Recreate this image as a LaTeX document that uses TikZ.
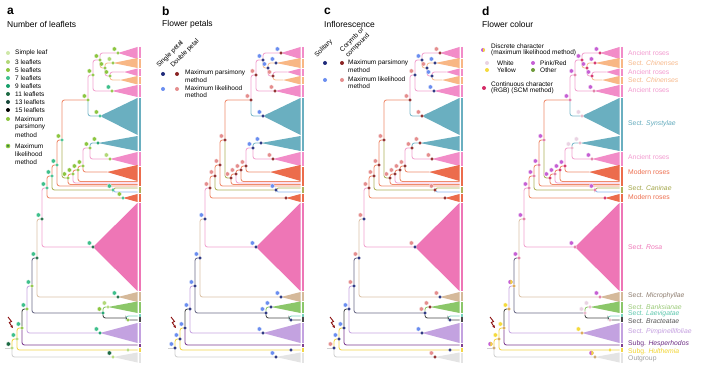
\documentclass[tikz,border=0pt]{standalone}
\usepackage{fontspec}
\setmainfont{Liberation Sans}
\usetikzlibrary{arrows.meta}
% line colours
\definecolor{lPink}{HTML}{F2A3CF}
\definecolor{lOrange}{HTML}{F7BE93}
\definecolor{lBlue}{HTML}{7DBACB}
\definecolor{lLBlue}{HTML}{8FB8F0}
\definecolor{lMod}{HTML}{EF8B6C}
\definecolor{lOlive}{HTML}{AFB25A}
\definecolor{lTan}{HTML}{DCC3A8}
\definecolor{lSlate}{HTML}{6C6C88}
\definecolor{lLav}{HTML}{C8A6E2}
\definecolor{lPurp}{HTML}{7E3E91}
\definecolor{lYel}{HTML}{F2D64A}
\definecolor{lGrey}{HTML}{D0D0D0}
\definecolor{lDark}{HTML}{4A4A4A}
\definecolor{lGreen}{HTML}{8CC66A}
\definecolor{lTeal}{HTML}{78D2BE}
% triangle colours
\definecolor{tPink}{HTML}{F28CC8}
\definecolor{tOrange}{HTML}{F8B785}
\definecolor{tBlue}{HTML}{6AAFC0}
\definecolor{tMod}{HTML}{EC6C4C}
\definecolor{tRose}{HTML}{EE76B6}
\definecolor{tTan}{HTML}{D5B99A}
\definecolor{tGreen}{HTML}{8BC769}
\definecolor{tLav}{HTML}{C3A2E0}
\definecolor{tGrey}{HTML}{E4E4E4}
% label colours
\definecolor{xPink}{HTML}{F39BD0}
\definecolor{xOrange}{HTML}{F7B88A}
\definecolor{xBlue}{HTML}{62AABD}
\definecolor{xMod}{HTML}{EE6E4E}
\definecolor{xOlive}{HTML}{A3A648}
\definecolor{xRose}{HTML}{EF78B8}
\definecolor{xMicro}{HTML}{8F7E70}
\definecolor{xBank}{HTML}{9CCB7A}
\definecolor{xLaev}{HTML}{5FC8AE}
\definecolor{xBract}{HTML}{555555}
\definecolor{xPimp}{HTML}{C49FE0}
\definecolor{xHesp}{HTML}{6E2F86}
\definecolor{xHult}{HTML}{F2D42E}
\definecolor{xOut}{HTML}{A0A0A0}
% leaflets
\definecolor{lf1}{HTML}{CFE8A8}
\definecolor{lf3}{HTML}{B2D878}
\definecolor{lf5}{HTML}{8DC641}
\definecolor{lf7}{HTML}{3FC08C}
\definecolor{lf9}{HTML}{16A06A}
\definecolor{lf11}{HTML}{1D6B44}
\definecolor{lf13}{HTML}{17473A}
\definecolor{lf15}{HTML}{000000}
% petals / inflorescence
\definecolor{mpS}{HTML}{1F2A7A}
\definecolor{mpD}{HTML}{8A2323}
\definecolor{mlS}{HTML}{6B8EF0}
\definecolor{mlD}{HTML}{E58E8E}
% colour
\definecolor{dPink}{HTML}{C660D4}
\definecolor{dWhite}{HTML}{EAD3E3}
\definecolor{dYellow}{HTML}{F5DA3C}
\definecolor{dOther}{HTML}{6E9A3A}
\definecolor{cCrim}{HTML}{D42B66}
\definecolor{cRose}{HTML}{E07AA4}
\definecolor{cLight}{HTML}{E8B4C8}
\definecolor{cGold}{HTML}{D9A64E}
\definecolor{cTan}{HTML}{C9A56B}
\definecolor{arrowred}{HTML}{8B1010}

\tikzset{
  br/.style={line width=0.85pt, rounded corners=2.5pt},
  mpd/.style={circle, inner sep=0pt, minimum size=3.6pt, draw=white, line width=0.25pt},
  mld/.style={circle, inner sep=0pt, minimum size=4.4pt, draw=white, line width=0.25pt},
  legdot/.style={circle, inner sep=0pt, minimum size=4pt},
  lab/.style={anchor=west, inner sep=0pt, font=\fontsize{6.8}{7}\selectfont},
  leg/.style={anchor=west, inner sep=0pt, font=\fontsize{6.5}{7.5}\selectfont},
  rleg/.style={anchor=south west, inner sep=0pt, rotate=45, font=\fontsize{6.6}{8}\selectfont},
  letter/.style={anchor=west, inner sep=0pt, font=\fontsize{12}{12}\selectfont\bfseries},
  ttl/.style={anchor=west, inner sep=0pt, font=\fontsize{8.5}{10}\selectfont},
}

\newcommand\bredge[3]{\draw[br,#1] (#2) |- (#3);}
\newcommand\ctri[4]{\fill[#1] (#2) -- (137.5,#3) -- (137.5,#4) -- cycle;}
\newcommand\bseg[3]{\draw[line width=1.3pt,#1] (140,#2) -- (140,#3);}
\newcommand\ndot[3]{\node[mld,fill=#3,xshift=-3.6pt,yshift=4pt] at (#1) {};\node[mpd,fill=#2] at (#1) {};}
\newcommand\ndotm[2]{\node[mpd,fill=#2] at (#1) {};}
\newcommand\hdot[4]{%
  \path (#1) ++(-3.6pt,4pt) coordinate (hd);
  \fill[#3] (hd) circle[radius=2.2pt];
  \fill[#4] (hd) ++(0pt,2.2pt) arc[start angle=90,end angle=-90,radius=2.2pt] -- cycle;
  \node[mpd,fill=#2] at (#1) {};}

\newcommand\rosetree[1]{%
  % internal nodes
  \coordinate (#1st) at (5,348);
  \coordinate (#1R) at (12,348);
  \coordinate (#1N1) at (17,339);
  \coordinate (#1N2) at (22,328);
  \coordinate (#1N3) at (27,309);
  \coordinate (#1N4) at (32,286);
  \coordinate (#1N5) at (37,258);
  \coordinate (#1N6) at (42,219);
  \coordinate (#1N7) at (47,188);
  \coordinate (#1N8) at (52,176);
  \coordinate (#1N9) at (57,165);
  \coordinate (#1NA) at (62,140);
  \coordinate (#1Q1) at (68,178);
  \coordinate (#1Q2) at (73,174);
  \coordinate (#1Q3) at (78,170);
  \coordinate (#1Q4) at (83,166);
  \coordinate (#1P) at (90,148);
  \coordinate (#1NT) at (88,100);
  \coordinate (#1NU) at (93,75);
  \coordinate (#1U1) at (100,60);
  \coordinate (#1U4) at (105,68);
  \coordinate (#1U5) at (110,76);
  \coordinate (#1BLB) at (103,313);
  \coordinate (#1L2) at (126,318);
  \coordinate (#1C) at (113,190);
  % tips
  \coordinate (#1A1) at (118,53);
  \coordinate (#1C1) at (113,63);
  \coordinate (#1A2) at (124,72);
  \coordinate (#1C2) at (120,80);
  \coordinate (#1A3) at (112,91);
  \coordinate (#1S1) at (100,116);
  \coordinate (#1S2) at (98,143);
  \coordinate (#1A4) at (110,159);
  \coordinate (#1MR) at (107,172);
  \coordinate (#1T1) at (137.5,181.5);
  \coordinate (#1T2) at (137.5,183);
  \coordinate (#1T3) at (137.5,184.5);
  \coordinate (#1T4) at (137.5,186);
  \coordinate (#1K1) at (137.5,188);
  \coordinate (#1K2) at (137.5,192);
  \coordinate (#1MR2) at (123,198);
  \coordinate (#1RO) at (93,247);
  \coordinate (#1MI) at (118,297);
  \coordinate (#1BA) at (108,307);
  \coordinate (#1LA) at (137.5,316);
  \coordinate (#1BR) at (137.5,320);
  \coordinate (#1BRd) at (128,320);
  \coordinate (#1PI) at (100,333);
  \coordinate (#1HE) at (137.5,345);
  \coordinate (#1HU) at (137.5,350);
  \coordinate (#1HUd) at (128,350);
  \coordinate (#1OG) at (113,357);
  % edges
  \draw[br,lGrey] (#1st) -- (#1R);
  \bredge{lYel}{#1R}{#1N1}
  \bredge{lGrey}{#1R}{#1OG}
  \bredge{lYel}{#1N1}{#1N2}
  \bredge{lYel}{#1N1}{#1HU}
  \bredge{lDark}{#1N2}{#1N3}
  \bredge{lPurp}{#1N2}{#1HE}
  \bredge{lLav}{#1N3}{#1N4}
  \bredge{lLav}{#1N3}{#1PI}
  \bredge{lSlate}{#1N4}{#1N5}
  \bredge{lSlate}{#1N4}{#1BLB}
  \bredge{lTan}{#1N5}{#1N6}
  \bredge{lTan}{#1N5}{#1MI}
  \bredge{lPink}{#1N6}{#1N7}
  \bredge{lPink}{#1N6}{#1RO}
  \bredge{lMod}{#1N7}{#1N8}
  \bredge{lMod}{#1N7}{#1MR2}
  \bredge{lMod}{#1N8}{#1N9}
  \bredge{lOlive}{#1N8}{#1C}
  \bredge{lMod}{#1N9}{#1NA}
  \bredge{lMod}{#1N9}{#1T4}
  \bredge{lMod}{#1NA}{#1NT}
  \bredge{lOlive}{#1NA}{#1Q1}
  \bredge{lMod}{#1Q1}{#1Q2}
  \bredge{lMod}{#1Q1}{#1T3}
  \bredge{lMod}{#1Q2}{#1Q3}
  \bredge{lPink}{#1Q2}{#1T2}
  \bredge{lMod}{#1Q3}{#1Q4}
  \bredge{lMod}{#1Q3}{#1T1}
  \bredge{lPink}{#1Q4}{#1P}
  \bredge{lMod}{#1Q4}{#1MR}
  \bredge{lBlue}{#1P}{#1S2}
  \bredge{lPink}{#1P}{#1A4}
  \bredge{lPink}{#1NT}{#1NU}
  \bredge{lBlue}{#1NT}{#1S1}
  \bredge{lPink}{#1NU}{#1U1}
  \bredge{lPink}{#1NU}{#1A3}
  \bredge{lPink}{#1U1}{#1A1}
  \bredge{lOrange}{#1U1}{#1U4}
  \bredge{lOrange}{#1U4}{#1C1}
  \bredge{lPink}{#1U4}{#1U5}
  \bredge{lPink}{#1U5}{#1A2}
  \bredge{lOrange}{#1U5}{#1C2}
  \bredge{lOlive}{#1C}{#1K1}
  \bredge{lLBlue}{#1C}{#1K2}
  \bredge{lGreen}{#1BLB}{#1BA}
  \bredge{lDark}{#1BLB}{#1L2}
  \bredge{lTeal}{#1L2}{#1LA}
  \bredge{lDark}{#1L2}{#1BR}
  % triangles
  \ctri{tPink}{#1A1}{47}{59}
  \ctri{tOrange}{#1C1}{58}{68}
  \ctri{tPink}{#1A2}{68.5}{76}
  \ctri{tOrange}{#1C2}{76}{84.5}
  \ctri{tPink}{#1A3}{85}{97}
  \ctri{tBlue}{#1S1}{98}{135}
  \ctri{tBlue}{#1S2}{136}{151}
  \ctri{tPink}{#1A4}{152}{166}
  \ctri{tMod}{#1MR}{165}{181}
  \ctri{tMod}{#1MR2}{194}{202}
  \ctri{tRose}{#1RO}{203}{291}
  \ctri{tTan}{#1MI}{292}{302}
  \ctri{tGreen}{#1BA}{301.5}{313}
  \ctri{tLav}{#1PI}{323}{343}
  \ctri{tGrey}{#1OG}{352.5}{362.5}
  % side bar
  \bseg{tPink}{47}{58}
  \bseg{tOrange}{58.8}{68}
  \bseg{tPink}{68.8}{76}
  \bseg{tOrange}{76.8}{84}
  \bseg{tPink}{84.8}{97}
  \bseg{tBlue}{98}{151.2}
  \bseg{tPink}{152}{166}
  \bseg{tMod}{166.8}{186.3}
  \bseg{lOlive}{187}{193}
  \bseg{tMod}{193.8}{202}
  \bseg{tRose}{203}{291.3}
  \bseg{tTan}{292}{301.3}
  \bseg{tGreen}{302}{312.8}
  \bseg{lTeal}{313.5}{316.6}
  \bseg{lDark}{317.3}{322.2}
  \bseg{tLav}{323}{342.8}
  \bseg{lPurp}{343.5}{347}
  \bseg{lYel}{347.7}{352}
  \bseg{tGrey}{352.7}{363}
  % root-shift arrow
  \draw[arrowred, line width=0.9pt, -{Triangle[length=2.4pt,width=2.6pt]}]
    (8,317) -- (11.5,321.5) -- (9.3,322.5) -- (12.8,328);
}

\begin{document}
\begin{tikzpicture}[x=1pt,y=-1pt]
\useasboundingbox[fill=white] (0,0) rectangle (703,371);

% ================= panel a =================
\node[letter] (la) at (7,11) {a};
\node[ttl] (ta) at (7,24) {Number of leaflets};
\foreach \yy/\cc/\tt in {53/lf1/Simple leaf, 62/lf3/3 leaflets, 70/lf5/5 leaflets,
  78/lf7/7 leaflets, 86/lf9/9 leaflets, 94/lf11/11 leaflets,
  102/lf13/13 leaflets, 110/lf15/15 leaflets}{
  \node[legdot, fill=\cc] (lgd\yy) at (8,\yy) {};
  \node[leg] (lgt\yy) at (15,\yy) {\tt};
}
\node[legdot, fill=lf5] (lgmp) at (8,119) {};
\node[leg] at (15,119) {Maximum};
\node[leg] at (15,127) {parsimony};
\node[leg] at (15,135) {method};
\node[legdot, fill=lf5, minimum size=4.6pt] (lgml) at (8,146) {};
\node[legdot, fill=lf11, minimum size=2pt] at (8,146) {};
\node[leg] at (15,146) {Maximum};
\node[leg] at (15,154) {likelihood};
\node[leg] at (15,162) {method};

\begin{scope}
\rosetree{a}
\ndot{aU5}{lf5}{lf5}\ndot{aU4}{lf5}{lf5}\ndot{aU1}{lf5}{lf5}
\ndot{aA1}{lf5}{lf5}\ndot{aC1}{lf5}{lf3}\ndot{aNU}{lf5}{lf5}
\ndot{aA3}{lf5}{lf7}\ndot{aNT}{lf5}{lf5}\ndot{aS1}{lf7}{lf5}
\ndot{aP}{lf5}{lf5}\ndot{aS2}{lf9}{lf5}\ndot{aA4}{lf5}{lf3}
\ndot{aQ4}{lf5}{lf5}\ndot{aQ3}{lf5}{lf5}\ndot{aQ2}{lf5}{lf5}\ndot{aQ1}{lf5}{lf5}
\ndot{aNA}{lf7}{lf5}\ndot{aN9}{lf7}{lf7}\ndot{aN8}{lf7}{lf7}\ndot{aN7}{lf7}{lf7}
\ndot{aC}{lf7}{lf7}\ndot{aMR2}{lf7}{lf5}
\ndot{aN6}{lf11}{lf7}\ndot{aRO}{lf11}{lf7}\ndot{aN5}{lf11}{lf7}\ndot{aMI}{lf11}{lf7}
\ndot{aN4}{lf5}{lf7}\ndot{aBLB}{lf9}{lf5}\ndot{aBA}{lf3}{lf3}\ndotm{aBRd}{lf5}
\ndot{aN3}{lf5}{lf7}\ndot{aPI}{lf9}{lf7}\ndot{aN2}{lf5}{lf7}\ndot{aN1}{lf3}{lf7}
\ndot{aR}{lf3}{lf11}\ndot{aOG}{lf3}{lf11}\ndotm{aHUd}{lf3}
\end{scope}

% ================= panel b =================
\node[letter] (lb) at (162,11) {b};
\node[ttl] (tb) at (162,24) {Flower petals};
\node[rleg] at (160,69) {Single petal};
\node[rleg] at (174,69) {Double petal};
\node[legdot, fill=mpS] (bl1) at (163,74) {};
\node[legdot, fill=mpD] (bl2) at (177,74) {};
\node[legdot, fill=mlS] (bl3) at (163,89) {};
\node[legdot, fill=mlD] (bl4) at (177,89) {};
\node[leg] at (185,73) {Maximum parsimony};
\node[leg] at (185,80) {method};
\node[leg] at (185,88) {Maximum likelihood};
\node[leg] at (185,95) {method};

\begin{scope}[xshift=163pt]
\rosetree{b}
\ndot{bU5}{mpD}{mlD}\ndot{bU4}{mpS}{mlS}\ndot{bU1}{mpS}{mlS}
\ndot{bA1}{mpD}{mlS}\ndot{bC1}{mpS}{mlS}\ndot{bNU}{mpD}{mlD}
\ndot{bA3}{mpD}{mlD}\ndot{bNT}{mpD}{mlD}\ndot{bS1}{mpS}{mlS}
\ndot{bP}{mpS}{mlS}\ndot{bS2}{mpS}{mlS}\ndot{bA4}{mpD}{mlD}
\ndot{bQ4}{mpD}{mlD}\ndot{bQ3}{mpD}{mlD}\ndot{bQ2}{mpD}{mlD}\ndot{bQ1}{mpD}{mlD}
\ndot{bNA}{mpD}{mlD}\ndot{bN9}{mpD}{mlD}\ndot{bN8}{mpD}{mlD}\ndot{bN7}{mpD}{mlD}
\ndot{bC}{mpS}{mlS}\ndotm{bMR2}{mpD}
\ndot{bN6}{mpS}{mlS}\ndot{bRO}{mpS}{mlS}\ndot{bN5}{mpS}{mlS}\ndot{bMI}{mpS}{mlS}
\ndot{bN4}{mpS}{mlS}\ndot{bBLB}{mpS}{mlS}\ndot{bBA}{mpS}{mlS}\ndotm{bBRd}{mpS}
\ndot{bN3}{mpS}{mlS}\ndot{bPI}{mpS}{mlS}\ndot{bN2}{mpS}{mlS}\ndot{bN1}{mpS}{mlS}
\ndot{bR}{mpS}{mlS}\ndot{bOG}{mpS}{mlS}\ndotm{bHUd}{mpS}
\end{scope}

% ================= panel c =================
\node[letter] (lc) at (324,11) {c};
\node[ttl] (tc) at (324,24) {Inflorescence};
\node[rleg] at (318,58.5) {Solitary};
\node[rleg, align=left] at (349,59) {Corymb or\\compound};
\node[legdot, fill=mpS] (cl1) at (325,63) {};
\node[legdot, fill=mpD] (cl2) at (342,63) {};
\node[legdot, fill=mlS] (cl3) at (325,80) {};
\node[legdot, fill=mlD] (cl4) at (342,80) {};
\node[leg] at (348,63) {Maximum parsimony};
\node[leg] at (348,70) {method};
\node[leg] at (348,79) {Maximum likelihood};
\node[leg] at (348,86) {method};

\begin{scope}[xshift=322pt]
\rosetree{c}
\ndot{cU5}{mpS}{mlS}\ndot{cU4}{mpS}{mlD}\ndot{cU1}{mpS}{mlS}
\ndot{cA1}{mpD}{mlD}\ndot{cC1}{mpS}{mlS}\ndot{cNU}{mpS}{mlD}
\ndot{cA3}{mpS}{mlS}\ndot{cNT}{mpD}{mlD}\ndot{cS1}{mpD}{mlD}
\ndot{cP}{mpD}{mlD}\ndot{cS2}{mpD}{mlD}\ndot{cA4}{mpD}{mlD}
\ndot{cQ4}{mpD}{mlD}\ndot{cQ3}{mpD}{mlD}\ndot{cQ2}{mpD}{mlD}\ndot{cQ1}{mpD}{mlD}
\ndot{cNA}{mpD}{mlD}\ndot{cN9}{mpD}{mlD}\ndot{cN8}{mpD}{mlD}\ndot{cN7}{mpD}{mlD}
\ndot{cC}{mpD}{mlD}\ndotm{cMR2}{mpD}
\ndot{cN6}{mpS}{mlD}\ndot{cRO}{mpS}{mlD}\ndot{cN5}{mpS}{mlD}\ndot{cMI}{mpS}{mlD}
\ndot{cN4}{mpS}{mlD}\ndot{cBLB}{mpS}{mlD}\ndot{cBA}{mpD}{mlD}\ndotm{cBRd}{mpS}
\ndot{cN3}{mpS}{mlS}\ndot{cPI}{mpS}{mlS}\ndot{cN2}{mpS}{mlS}\ndot{cN1}{mpS}{mlS}
\ndot{cR}{mpS}{mlD}\ndot{cOG}{mpD}{mlD}\ndotm{cHUd}{mpS}
\end{scope}

% ================= panel d =================
\node[letter] (ld) at (482,11) {d};
\node[ttl] (td) at (482,24) {Flower colour};
\fill[dPink] (483,50) circle[radius=2pt];
\fill[dYellow] (483,50) ++(0pt,2pt) arc[start angle=90,end angle=-90,radius=2pt] -- cycle;
\node[leg] at (491,46) {Discrete character};
\node[leg] at (491,53) {(maximum likelihood method)};
\node[legdot, fill=dWhite] (dl1) at (487,63) {};
\node[leg] at (497,63) {White};
\node[legdot, fill=dYellow] (dl2) at (487,70) {};
\node[leg] at (497,70) {Yellow};
\node[legdot, fill=dPink] (dl3) at (533,63) {};
\node[leg] at (540,63) {Pink/Red};
\node[legdot, fill=dOther] (dl4) at (533,70) {};
\node[leg] at (540,70) {Other};
\node[legdot, fill=cCrim] (dl5) at (484,88) {};
\node[leg] at (491,84) {Continuous character};
\node[leg] at (491,91) {(RGB) (SCM method)};

\begin{scope}[xshift=482pt]
\rosetree{d}
\ndot{dU5}{cCrim}{dPink}\ndot{dU4}{cCrim}{dPink}\ndot{dU1}{cCrim}{dPink}
\ndot{dA1}{cCrim}{dPink}\ndot{dC1}{cCrim}{dPink}\ndot{dNU}{cRose}{dPink}
\ndot{dA3}{cRose}{dPink}\ndot{dNT}{cRose}{dPink}\ndot{dS1}{cLight}{dWhite}
\ndot{dP}{cLight}{dWhite}\ndot{dS2}{cLight}{dWhite}\ndot{dA4}{cRose}{dPink}
\ndot{dQ4}{cCrim}{dPink}\ndot{dQ3}{cCrim}{dPink}\ndot{dQ2}{cRose}{dPink}\ndot{dQ1}{cCrim}{dPink}
\ndot{dNA}{cRose}{dPink}\ndot{dN9}{cRose}{dPink}\ndot{dN8}{cRose}{dPink}\ndot{dN7}{cRose}{dPink}
\ndot{dC}{cRose}{dPink}\ndotm{dMR2}{cCrim}
\ndot{dN6}{cRose}{dPink}\ndot{dRO}{cRose}{dPink}\ndot{dN5}{cRose}{dPink}\ndot{dMI}{cRose}{dPink}
\hdot{dN4}{cGold}{dPink}{dYellow}\ndot{dBLB}{cLight}{dWhite}\ndot{dBA}{cLight}{dWhite}\ndotm{dBRd}{cLight}
\ndot{dN3}{cGold}{dYellow}\ndot{dPI}{cGold}{dYellow}\ndot{dN2}{cGold}{dYellow}\ndot{dN1}{cGold}{dYellow}
\hdot{dR}{cTan}{dPink}{dYellow}\hdot{dOG}{cTan}{dPink}{dYellow}\ndotm{dHUd}{dYellow}
\end{scope}

% clade labels
\node[lab, text=xPink] (k1) at (628,53) {Ancient roses};
\node[lab, text=xOrange] (k2) at (628,63) {Sect. \textit{Chinenses}};
\node[lab, text=xPink] (k3) at (628,72.5) {Ancient roses};
\node[lab, text=xOrange] (k4) at (628,80.5) {Sect. \textit{Chinenses}};
\node[lab, text=xPink] (k5) at (628,90) {Ancient roses};
\node[lab, text=xBlue] (k6) at (628,124) {Sect. \textit{Synstylae}};
\node[lab, text=xPink] (k7) at (628,157) {Ancient roses};
\node[lab, text=xMod] (k8) at (628,172) {Modern roses};
\node[lab, text=xOlive] (k9) at (628,188) {Sect. \textit{Caninae}};
\node[lab, text=xMod] (k10) at (628,197.5) {Modern roses};
\node[lab, text=xRose] (k11) at (628,247) {Sect. \textit{Rosa}};
\node[lab, text=xMicro] (k12) at (628,296) {Sect. \textit{Microphyllae}};
\node[lab, text=xBank] (k13) at (628,307) {Sect. \textit{Banksianae}};
\node[lab, text=xLaev] (k14) at (628,314) {Sect. \textit{Laevigatae}};
\node[lab, text=xBract] (k15) at (628,321) {Sect. \textit{Bracteatae}};
\node[lab, text=xPimp] (k16) at (628,332) {Sect. \textit{Pimpinellifoliae}};
\node[lab, text=xHesp] (k17) at (628,344) {Subg. \textit{Hesperhodos}};
\node[lab, text=xHult] (k18) at (628,351.5) {Subg. \textit{Hulthemia}};
\node[lab, text=xOut] (k19) at (628,359) {Outgroup};
\end{tikzpicture}
\end{document}
